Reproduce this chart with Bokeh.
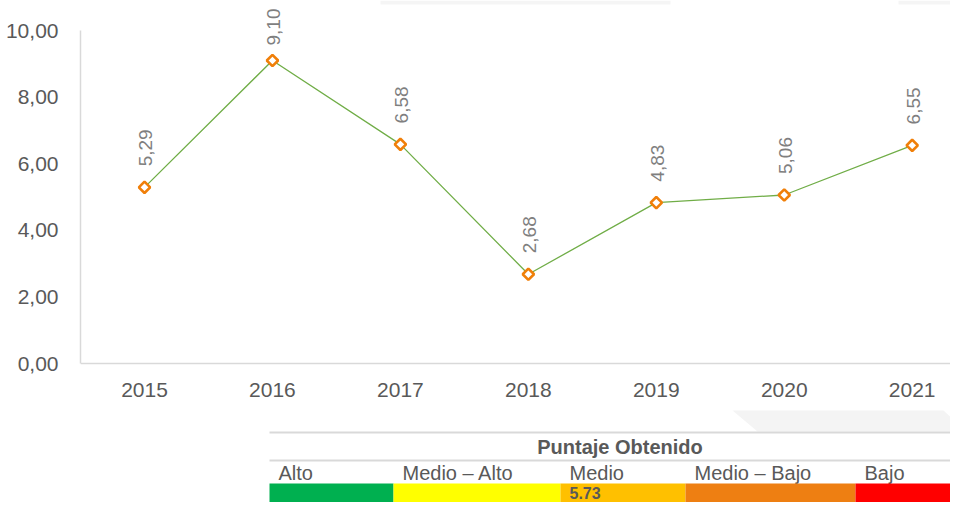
import math
from bokeh.plotting import figure
from bokeh.models import Range1d, FixedTicker, LinearAxis
from bokeh.core.properties import value
from bokeh.embed import file_html
from bokeh.resources import INLINE

# ---------------- data ----------------
years = [2015, 2016, 2017, 2018, 2019, 2020, 2021]
values = [5.29, 9.10, 6.58, 2.68, 4.83, 5.06, 6.55]
y_ticks = [0, 2, 4, 6, 8, 10]

levels = ["Alto", "Medio – Alto", "Medio", "Medio – Bajo", "Bajo"]
level_colors = ["#00B050", "#FFFF00", "#FFC000", "#EE7F12", "#FF0000"]
table_title = "Puntaje Obtenido"
score = 5.73
score_level = "Medio"

def fmt(v):
    return f"{v:.2f}".replace(".", ",")

# ---------------- layout constants ----------------
FONT = "Liberation Sans"
AXIS_GRAY = "#D9D9D9"
LABEL_DARK = "#595959"
LABEL_LIGHT = "#7F7F7F"

W, H = 950, 502
FRAME_LEFT = 80
Y0_PX = 363          # pixel row of value 0
PX_PER_UNIT = 33.3
X_PX_PER_YEAR = 127.95
FIRST_X_PX = 144

y_start = -(H - Y0_PX) / PX_PER_UNIT
y_end = Y0_PX / PX_PER_UNIT
x_start = years[0] - (FIRST_X_PX - FRAME_LEFT) / X_PX_PER_YEAR
x_end = x_start + (W - FRAME_LEFT) / X_PX_PER_YEAR

p = figure(width=W, height=H,
           x_range=Range1d(x_start, x_end), y_range=Range1d(y_start, y_end),
           output_backend="svg", toolbar_location=None,
           x_axis_type=None,
           min_border_left=FRAME_LEFT, min_border_right=0,
           min_border_top=0, min_border_bottom=0)
p.outline_line_color = None
p.xgrid.grid_line_color = None
p.ygrid.grid_line_color = None
p.background_fill_color = "white"
p.border_fill_color = "white"

# y axis
p.yaxis.ticker = FixedTicker(ticks=y_ticks)
p.yaxis.major_label_overrides = {t: fmt(t) for t in y_ticks}
p.yaxis.bounds = (0, 10)
p.yaxis.axis_line_color = AXIS_GRAY
p.yaxis.axis_line_width = 1.5
p.yaxis.major_tick_line_color = None
p.yaxis.minor_tick_line_color = None
p.yaxis.major_tick_out = 0
p.yaxis.major_label_standoff = 22
p.yaxis.major_label_text_font = FONT
p.yaxis.major_label_text_font_size = "21px"
p.yaxis.major_label_text_color = LABEL_DARK

# x axis drawn at y = 0 inside the frame
xaxis = LinearAxis(fixed_location=0, ticker=FixedTicker(ticks=years),
                   major_label_overrides={y: str(y) for y in years})
xaxis.axis_line_color = AXIS_GRAY
xaxis.axis_line_width = 1.5
xaxis.major_tick_line_color = None
xaxis.minor_tick_line_color = None
xaxis.major_tick_out = 0
xaxis.major_label_standoff = 19
xaxis.major_label_text_font = FONT
xaxis.major_label_text_font_size = "21px"
xaxis.major_label_text_color = LABEL_DARK
p.add_layout(xaxis, "below")

# line + markers
p.line(years, values, line_color="#70AD47", line_width=1.3)
p.scatter(years, values, marker="square", angle=math.pi / 4, size=8,
          fill_color="white", line_color="#F07F09", line_width=2.6)

# data labels (rotated), pulled down where they would reach the top edge
offsets = []
for v in values:
    from_top = (y_end - v) * PX_PER_UNIT
    offsets.append(-min(21, from_top - 45))
p.text(x=years, y=values, text=[fmt(v) for v in values],
       angle=math.pi / 2, text_align="left", text_baseline="middle",
       y_offset=offsets, x_offset=1,
       text_font=value(FONT), text_font_size="19px", text_color=LABEL_LIGHT)

# ---------------- score table (pixel ranges) ----------------
p.extra_x_ranges = {"px": Range1d(FRAME_LEFT, W)}
p.extra_y_ranges = {"px": Range1d(H, 0)}
kw = dict(x_range_name="px", y_range_name="px")

# faint decorative shapes
p.quad(left=[380, 898], right=[670, 966], top=[0, 0], bottom=[4, 4],
       color="#F5F5F5", line_color=None, **kw)
p.patch([732, 943, 966, 757], [410, 410, 431, 431], color="#F4F4F4",
        line_color=None, **kw)

edges = [269, 393, 560, 685, 855, 966]
left = edges[0]
right = edges[-1]

p.segment(x0=[left, left], y0=[432, 460], x1=[right, right], y1=[432, 460],
          line_color=AXIS_GRAY, line_width=2, **kw)

p.text(x=[(left + right) / 2 + 2], y=[446], text=[table_title],
       text_align="center", text_baseline="middle",
       text_font=value(FONT), text_font_style="bold", text_font_size="20px",
       text_color=LABEL_DARK, **kw)

p.text(x=[e + 9 for e in edges[:-1]], y=[472] * len(levels), text=levels,
       text_align="left", text_baseline="middle",
       text_font=value(FONT), text_font_size="20px", text_color=LABEL_DARK, **kw)

p.quad(left=edges[:-1], right=edges[1:], top=[483] * 5, bottom=[H + 10] * 5,
       fill_color=level_colors, line_color=None, **kw)

i = levels.index(score_level)
p.text(x=[edges[i] + 9], y=[492], text=[f"{score:.2f}"],
       text_align="left", text_baseline="middle",
       text_font=value(FONT), text_font_style="bold", text_font_size="16px",
       text_color=LABEL_DARK, **kw)

open("out.html", "w").write(file_html(p, INLINE))
